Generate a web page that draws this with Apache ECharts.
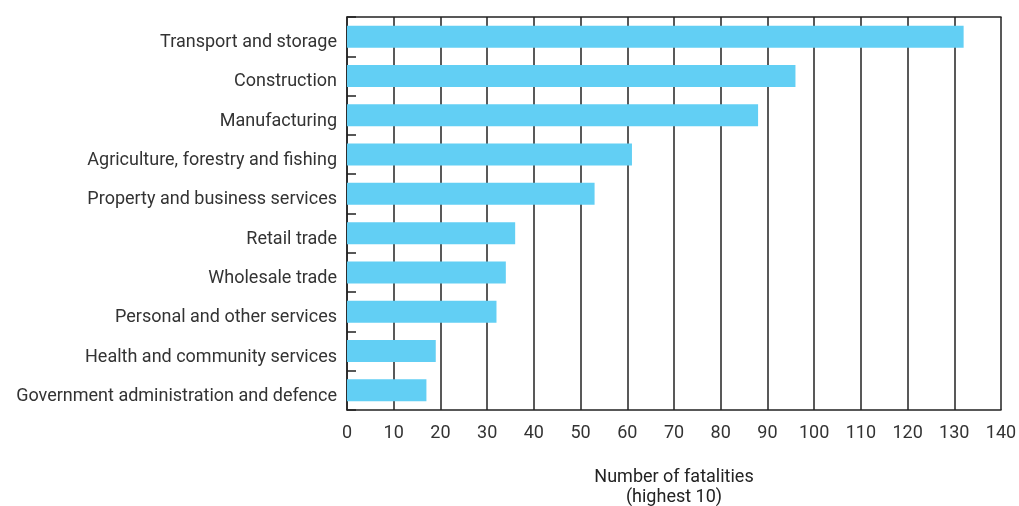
<!DOCTYPE html>
<html><head><meta charset="utf-8">
<script src="https://cdn.jsdelivr.net/npm/echarts@6/dist/echarts.min.js"></script>
<style>html,body{margin:0;padding:0;background:#fff}#c{width:1019px;height:506px}</style>
</head><body><div id="c"></div>
<script>
const categories = ["Transport and storage","Construction","Manufacturing","Agriculture, forestry and fishing","Property and business services","Retail trade","Wholesale trade","Personal and other services","Health and community services","Government administration and defence"];
const fatalities = [132,96,88,61,53,36,34,32,19,17];
const xAxisName = "Number of fatalities\n(highest 10)";
const font = "Roboto";
const chart = echarts.init(document.getElementById('c'), null, {renderer:'canvas'});
chart.setOption({
  animation:false,
  grid:{left:347, right:18, top:17, bottom:96, containLabel:false, outerBoundsMode:'none'},
  xAxis:[{type:'value', min:0, max:140, interval:10,
    name:xAxisName, nameLocation:'middle', nameGap:57,
    nameTextStyle:{color:'#222', fontSize:18, fontFamily:font, lineHeight:20},
    axisLine:{show:true, lineStyle:{color:'#222', width:1.5}},
    axisTick:{show:false},
    axisLabel:{color:'#333', fontSize:18, fontFamily:font, margin:14},
    splitLine:{show:true, lineStyle:{color:'#222', width:1.5}}
  },{type:'value', min:0, max:140, interval:10, position:'top',
    axisLine:{show:true, lineStyle:{color:'#222', width:1.5}},
    axisTick:{show:false}, axisLabel:{show:false}, splitLine:{show:false}
  }],
  yAxis:{type:'category', data:categories, inverse:true,
    axisLine:{show:true, lineStyle:{color:'#222', width:1.5}},
    axisTick:{show:true, inside:true, length:9, lineStyle:{color:'#222', width:1.5}},
    axisLabel:{color:'#333', fontSize:18, fontFamily:font, margin:10, verticalAlign:'top', lineHeight:12}
  },
  series:[{type:'bar', data:fatalities, barWidth:'56%', itemStyle:{color:'#62CFF4'}, silent:true}]
});
</script>
</body></html>
